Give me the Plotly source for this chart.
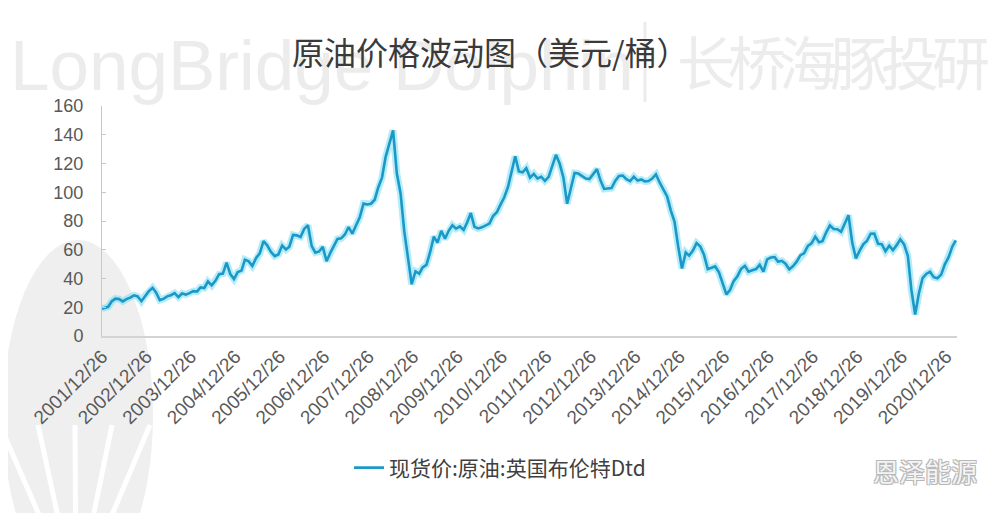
import pandas as pd
import plotly.graph_objects as go

# ---- data (monthly Brent Dtd spot, USD/bbl) ----
start_date = "2001-12-26"
start_value = 19.0
v2002 = [19.5, 20.3, 24.0, 26.0, 25.7, 24.1, 25.7, 26.7, 28.3, 27.5, 24.2, 28.1]
v2003 = [31.2, 33.5, 30.3, 25.0, 25.8, 27.6, 28.4, 29.8, 27.1, 29.6, 28.8, 29.8]
v2004 = [31.2, 30.9, 33.8, 33.4, 37.9, 35.2, 38.4, 43.0, 43.4, 51.0, 43.1, 39.6]
v2005 = [44.5, 45.5, 53.1, 51.9, 48.7, 54.3, 57.5, 66.0, 62.9, 58.5, 55.5, 56.7]
v2006 = [62.9, 60.2, 62.1, 70.3, 70.0, 68.9, 74.5, 77.0, 62.5, 58.0, 58.8, 62.0]
v2007 = [52.0, 57.8, 62.1, 67.5, 67.9, 70.6, 75.8, 71.2, 77.0, 82.5, 92.1, 91.5]
v2008 = [92.0, 94.8, 103.3, 110.2, 124.6, 133.5, 143.0, 113.0, 99.0, 72.8, 53.2, 36.0]
v2009 = [44.9, 43.4, 47.7, 49.5, 58.1, 69.1, 65.0, 73.1, 67.7, 73.2, 77.0, 74.7]
v2010 = [76.2, 73.8, 78.8, 85.5, 75.9, 74.8, 75.6, 77.1, 78.2, 83.5, 86.1, 91.4]
v2011 = [96.5, 103.7, 114.6, 125.0, 114.5, 113.9, 116.7, 110.2, 112.8, 109.6, 110.8, 107.9]
v2012 = [110.7, 119.3, 126.0, 119.8, 110.3, 92.0, 102.6, 113.4, 113.0, 111.5, 109.5, 109.2]
v2013 = [112.3, 116.1, 108.5, 102.3, 102.6, 102.9, 107.9, 111.3, 111.6, 109.1, 107.8, 110.8]
v2014 = [108.1, 108.9, 107.5, 107.8, 109.5, 112.5, 106.8, 101.6, 97.1, 87.4, 79.4, 62.3]
v2015 = [47.0, 58.1, 55.9, 59.5, 64.6, 62.3, 56.5, 46.5, 47.6, 48.4, 44.3, 37.0]
v2016 = [29.0, 32.2, 38.2, 41.6, 46.7, 48.8, 44.7, 45.7, 46.6, 49.5, 44.7, 53.3]
v2017 = [54.6, 54.9, 51.6, 52.3, 50.3, 46.4, 48.5, 51.7, 56.2, 57.5, 62.7, 64.4]
v2018 = [69.1, 65.3, 66.0, 72.1, 76.9, 74.4, 74.3, 72.5, 78.9, 84.0, 64.8, 54.0]
v2019 = [59.4, 64.0, 66.1, 71.2, 71.3, 64.2, 63.9, 59.0, 62.8, 59.7, 63.2, 67.3]
v2020 = [63.7, 55.7, 32.0, 15.0, 29.4, 40.3, 43.2, 44.7, 40.9, 40.2, 42.7, 49.9]
v2021 = [54.8, 62.3, 66.5]

tick_labels = ["2001/12/26", "2002/12/26", "2003/12/26", "2004/12/26", "2005/12/26",
               "2006/12/26", "2007/12/26", "2008/12/26", "2009/12/26", "2010/12/26",
               "2011/12/26", "2012/12/26", "2013/12/26", "2014/12/26", "2015/12/26",
               "2016/12/26", "2017/12/26", "2018/12/26", "2019/12/26", "2020/12/26"]

series_name = "现货价:原油:英国布伦特Dtd"
title_text = "原油价格波动图（美元/桶）"

# ---- build series ----
monthly = (v2002 + v2003 + v2004 + v2005 + v2006 + v2007 + v2008 + v2009 + v2010 +
           v2011 + v2012 + v2013 + v2014 + v2015 + v2016 + v2017 + v2018 + v2019 +
           v2020 + v2021)
month_dates = pd.date_range("2002-01-01", periods=len(monthly), freq="MS") + pd.Timedelta(days=14)
dates = [pd.Timestamp(start_date)] + list(month_dates)
values = [start_value] + monthly
tick_vals = [pd.Timestamp(t.replace("/", "-")) for t in tick_labels]

# ---- layout geometry (page pixels; page body has an 8px offset) ----
OFF = 8
W, H = 1000, 513
PL, PR, PT, PB = 102, 957, 106, 336  # plot box in page pixels
L, T = PL - OFF, PT - OFF
R, B = W - (PR - OFF), H - (PB - OFF)
PW, PH = PR - PL, PB - PT


def px(x):
    return (x - PL) / PW


def py(y):
    return (PB - y) / PH


fig = go.Figure()
fig.add_trace(go.Scatter(x=dates, y=values, mode="lines", showlegend=False,
                         hoverinfo="skip",
                         line=dict(color="rgba(120,220,245,0.55)", width=7)))
fig.add_trace(go.Scatter(x=dates, y=values, mode="lines", name=series_name,
                         line=dict(color="#1b98c6", width=2.6)))

shapes = []
# faint logo watermark at left
shapes.append(dict(type="circle", xref="paper", yref="paper", layer="below",
                   x0=px(3), x1=px(153), y0=py(240), y1=py(590),
                   fillcolor="#efefef", line=dict(width=0)))
for xe in [0, 38, 75, 112, 150]:
    shapes.append(dict(type="line", xref="paper", yref="paper", layer="below",
                       x0=px(76), y0=py(600), x1=px(xe), y1=py(425),
                       line=dict(color="white", width=5)))
# vertical bar of watermark
shapes.append(dict(type="line", xref="paper", yref="paper", layer="below",
                   x0=px(645), x1=px(645), y0=py(22), y1=py(102),
                   line=dict(color="#ececec", width=3)))

annotations = []
annotations.append(dict(text="LongBridge Dolphin", xref="paper", yref="paper",
                        x=px(8), y=py(66), xanchor="left", yanchor="middle",
                        showarrow=False,
                        font=dict(family="Liberation Sans", size=71, color="#ececec")))
for i, ch in enumerate("长桥海豚投研"):
    annotations.append(dict(text=ch, xref="paper", yref="paper",
                            x=px(706 + 51 * i), y=py(60), xanchor="center", yanchor="middle",
                            showarrow=False,
                            font=dict(family="Noto Sans CJK SC", size=58, color="#ececec")))
annotations.append(dict(text=title_text, xref="paper", yref="paper",
                        x=px(490), y=py(51), xanchor="center", yanchor="middle",
                        showarrow=False,
                        font=dict(family="Noto Sans CJK SC", size=32, color="#3a3a3a")))
annotations.append(dict(text="恩泽能源", xref="paper", yref="paper",
                        x=px(925), y=py(470), xanchor="center", yanchor="middle",
                        showarrow=False,
                        font=dict(family="Noto Sans CJK SC", size=26, color="#f4f4f4",
                                  shadow="1px 1px 0 #b8b8b8, -1px -1px 0 #b8b8b8, 1px -1px 0 #b8b8b8, -1px 1px 0 #b8b8b8")))

fig.update_layout(
    width=W, height=H,
    margin=dict(l=L, r=R, t=T, b=B, pad=0),
    paper_bgcolor="white", plot_bgcolor="rgba(0,0,0,0)",
    shapes=shapes, annotations=annotations,
    showlegend=True,
    legend=dict(orientation="h", x=px(500), y=py(468), xanchor="center", yanchor="middle",
                font=dict(family="Noto Sans CJK SC", size=21, color="#404040"),
                bgcolor="rgba(0,0,0,0)"),
    xaxis=dict(type="date", range=[pd.Timestamp(start_date), pd.Timestamp("2021-03-25")],
               tickmode="array", tickvals=tick_vals, ticktext=tick_labels,
               tickangle=-45, ticks="", showgrid=False, zeroline=False,
               showline=True, linecolor="#d3d3d3", linewidth=2,
               tickfont=dict(family="Liberation Sans", size=19, color="#595959")),
    yaxis=dict(range=[0, 160], dtick=20, showgrid=False, zeroline=False,
               showline=True, linecolor="#c8c8c8", linewidth=1,
               ticks="inside", ticklen=4, tickcolor="#c8c8c8",
               ticklabelstandoff=14,
               tickfont=dict(family="Liberation Sans", size=18, color="#595959")),
)

fig.write_html("out.html")
